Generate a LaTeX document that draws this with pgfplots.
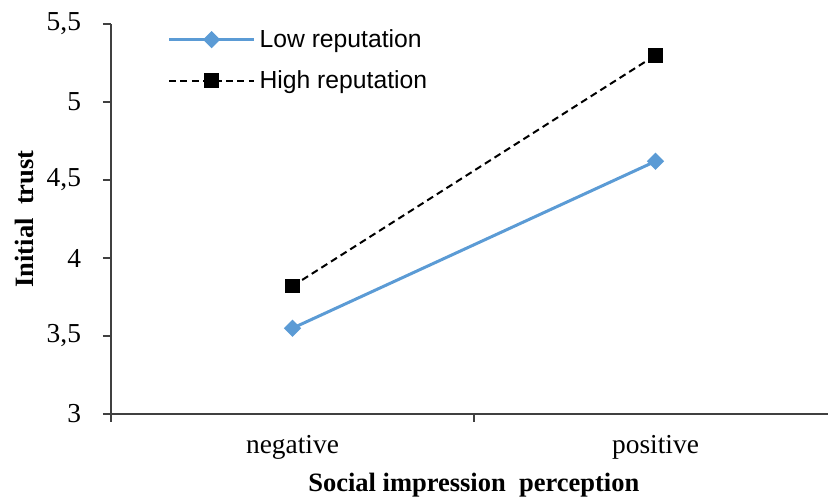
\documentclass[border=0pt]{standalone}
\usepackage{fontspec}
\setmainfont{Liberation Serif}
\newfontfamily\arialfont{Liberation Sans}
\usepackage{pgfplots}
\pgfplotsset{compat=1.18}
\definecolor{lowblue}{HTML}{5B9BD5}
\definecolor{axisgray}{HTML}{404040}

\begin{document}
\begin{tikzpicture}
\path[use as bounding box] (0,0) rectangle (414bp,250.5bp);
\begin{axis}[
    at={(55.5bp,43.5bp)}, anchor=south west,
    scale only axis,
    width=358.5bp, height=195bp,
    xmin=-0.5, xmax=1.475,
    ymin=3, ymax=5.5,
    axis x line=bottom, axis y line=left,
    axis line style={-, draw=axisgray, line width=0.7bp},
    tick align=outside,
    major tick length=4bp,
    tick style={draw=axisgray, line width=0.7bp},
    xtick={-0.5,0.5}, xticklabels={,},
    extra x ticks={0,1},
    extra x tick labels={negative,positive},
    extra x tick style={major tick length=0pt, xticklabel style={yshift=-7bp}},
    ytick={3,3.5,4,4.5,5,5.5},
    /pgf/number format/use comma,
    /pgf/number format/assume math mode=true,
    ticklabel style={font=\fontsize{13.75}{16}\selectfont},
    yticklabel style={xshift=-7.5bp},
    xlabel={\textbf{Social impression\ \ perception}},
    ylabel={\textbf{Initial\ \ trust}},
    label style={font=\fontsize{13.3}{15}\selectfont},
    xlabel style={at={(axis description cs:0.506,-0.182)}, anchor=center},
    ylabel style={at={(axis description cs:-0.121,0.5)}, anchor=center, rotate=0},
    legend cell align=left,
    legend style={draw=none, fill=none, font=\arialfont\fontsize{12.4}{14}\selectfont,
        at={(axis description cs:0.07,1.008)}, anchor=north west,
        row sep=6bp,
        legend image code/.code={\draw[mark repeat=2,mark phase=2,#1] plot coordinates {(0cm,0cm) (0.75cm,0cm) (1.5cm,0cm)};}},
]
\addplot[color=lowblue, line width=1.5bp, mark=square*, mark size=2.3bp,
    mark options={rotate=45, solid, fill=lowblue}]
    coordinates {(0,3.55) (1,4.62)};
\addlegendentry{Low reputation}
\addplot[color=black, line width=1bp, dash pattern=on 3.5bp off 2.2bp, mark=square*, mark size=3.2bp,
    mark options={solid, fill=black}]
    coordinates {(0,3.82) (1,5.30)};
\addlegendentry{High reputation}
\end{axis}
\end{tikzpicture}
\end{document}
